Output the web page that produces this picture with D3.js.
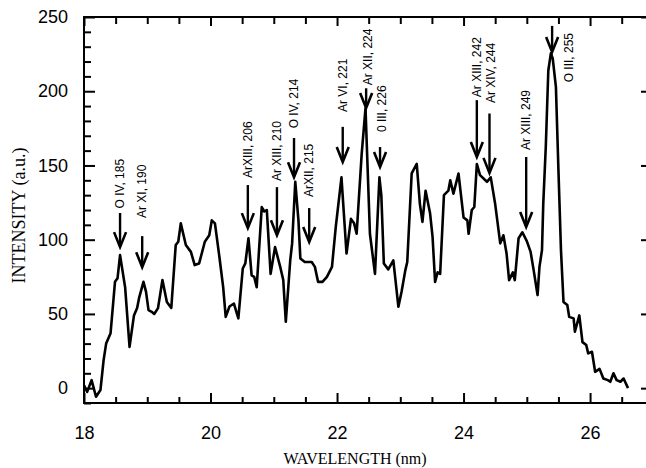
<!DOCTYPE html>
<html>
<head>
<meta charset="utf-8">
<script src="https://cdn.jsdelivr.net/npm/d3@7"></script>
<style>
  html, body { margin: 0; padding: 0; background: #fff; }
  svg { display: block; }
</style>
</head>
<body>
<svg id="chart" width="646" height="468"></svg>
<script>
// ---- data ----
const wavelength = [
  18.00, 18.05, 18.12, 18.19, 18.26, 18.31, 18.35, 18.42, 18.49, 18.53,
  18.57, 18.65, 18.72, 18.79, 18.84, 18.87, 18.94, 18.98, 19.02, 19.07,
  19.11, 19.17, 19.24, 19.31, 19.38, 19.45, 19.49, 19.53, 19.61, 19.69,
  19.75, 19.82, 19.91, 19.98, 20.02, 20.07, 20.14, 20.20, 20.24, 20.30,
  20.37, 20.44, 20.51, 20.55, 20.60, 20.65, 20.69, 20.73, 20.81, 20.85,
  20.89, 20.95, 21.02, 21.10, 21.15, 21.19, 21.26, 21.29, 21.34, 21.39,
  21.42, 21.49, 21.60, 21.65, 21.70, 21.77, 21.84, 21.92, 21.98, 22.07,
  22.15, 22.22, 22.27, 22.31, 22.35, 22.39, 22.45, 22.52, 22.60, 22.67,
  22.70, 22.74, 22.81, 22.89, 22.97, 23.02, 23.08, 23.11, 23.18, 23.26,
  23.31, 23.35, 23.40, 23.47, 23.51, 23.55, 23.59, 23.63, 23.69, 23.76,
  23.79, 23.84, 23.92, 24.00, 24.06, 24.08, 24.13, 24.17, 24.21, 24.26,
  24.37, 24.43, 24.50, 24.58, 24.63, 24.68, 24.72, 24.78, 24.81, 24.87,
  24.93, 25.00, 25.06, 25.11, 25.17, 25.20, 25.24, 25.26, 25.30, 25.34,
  25.38, 25.41, 25.46, 25.50, 25.54, 25.58, 25.64, 25.67, 25.74, 25.76,
  25.83, 25.88, 25.94, 25.97, 26.03, 26.08, 26.15, 26.21, 26.28, 26.32,
  26.37, 26.42, 26.48, 26.53, 26.60
];
const intensity = [
  2, -2.5, 5.4, -5.8, -1.3, 18.9, 30, 37, 71.6, 74,
  89.6, 68, 27.8, 49, 54, 60.6, 71.6, 65, 52.6, 51.4,
  50, 53.9, 72.8, 58, 54, 96.4, 98.6, 111, 96.4, 91.8,
  82.9, 84, 98.6, 103, 113, 111, 88.5, 68, 48, 55,
  57, 47, 80.6, 84, 101, 76, 75, 68, 122, 119,
  120, 77, 95, 82, 72.8, 44.7, 86, 97.5, 139, 113,
  87.4, 85, 85, 81.7, 71.6, 71.6, 75, 81.7, 108.7, 142,
  90.7, 114, 111, 104, 131, 158, 188.5, 104, 77, 142,
  130, 84, 80, 86, 54.8, 65, 79.5, 85, 144.6, 151,
  124, 112, 133, 118, 102, 71.6, 78, 77, 130, 133,
  140, 131, 144.6, 115, 113, 104, 120, 122, 151, 143.5,
  139, 142, 124, 97.5, 103, 90.7, 72.8, 78, 72.8, 101,
  105, 99, 91.8, 79, 62.7, 81.7, 93, 124, 162.6, 214,
  225.5, 222, 203, 147, 93, 58, 56, 48, 47, 38,
  49, 31, 29, 23.4, 24.5, 11, 13, 6.5, 5.4, 4.3,
  10, 5.4, 4.3, 6.5, 0
];

// annotations: label, wavelength of arrow, arrow tip / tail intensity, label start intensity
const annLabels = ["O IV, 185", "Ar XI, 190", "ArXIII, 206", "Ar XIII, 210", "O IV, 214",
  "ArXII,  215", "Ar VI, 221", "Ar XII, 224", "0 III, 226", "Ar XIII, 242",
  "Ar XIV, 244", "Ar XIII, 249", "O III, 255"];
const annX    = [18.57, 18.92, 20.59, 21.05, 21.32, 21.56, 22.09, 22.46, 22.68, 24.21, 24.41, 24.99, 25.40];
const annTip  = [95, 81.5, 107.8, 103, 142, 98.4, 152.3, 188.7, 149, 155.7, 145, 108.5, 226.4];
const annTail = [118, 102.4, 136.8, 135.4, 168.5, 121.3, 176, 202, 162.4, 194, 185, 155.7, 244];
const annTextX = [18.57, 18.92, 20.59, 21.05, 21.32, 21.56, 22.09, 22.49, 22.71, 24.21, 24.43, 24.99, 25.66];
const annTextY = [121, 114.6, 141.5, 139.5, 175, 128.7, 186, 204, 172.5, 196, 192, 160.4, 206];

const xMajorTicks = [18, 20, 22, 24, 26];
const yMajorTicks = [0, 50, 100, 150, 200, 250];
const xTitle = "WAVELENGTH (nm)";
const yTitle = "INTENSITY (a.u.)";

// ---- layout ----
const svg = d3.select("#chart");
const L = 84, R = 647, T = 17, B = 403;
const x = d3.scaleLinear().domain([18, 26.9]).range([L, R]);
const y = d3.scaleLinear().domain([-10, 250]).range([B, T]);

const xMinor = d3.range(18, 26.9, 0.5).filter(v => !xMajorTicks.includes(v));
const yMinor = d3.range(-10, 251, 10).filter(v => !yMajorTicks.includes(v));

const sans = "'Liberation Sans', Arial, Helvetica, sans-serif";
const serif = "'Liberation Serif', 'Times New Roman', serif";

function styleAxis(g) {
  g.select(".domain").remove();
  g.selectAll(".tick line").attr("stroke", "#000").attr("stroke-width", 2);
  g.selectAll("text").attr("font-family", sans).attr("font-size", 18).attr("fill", "#000");
}

// bottom
svg.append("g").attr("transform", `translate(0,${B})`)
  .call(d3.axisBottom(x).tickValues(xMajorTicks).tickSize(-10).tickPadding(23).tickFormat(d3.format("d")))
  .call(styleAxis);
svg.append("g").attr("transform", `translate(0,${B})`)
  .call(d3.axisBottom(x).tickValues(xMinor).tickSize(-6).tickFormat(""))
  .call(styleAxis);
// top
svg.append("g").attr("transform", `translate(0,${T})`)
  .call(d3.axisTop(x).tickValues(xMajorTicks).tickSize(-9).tickFormat(""))
  .call(styleAxis);
svg.append("g").attr("transform", `translate(0,${T})`)
  .call(d3.axisTop(x).tickValues(xMinor).tickSize(-7).tickFormat(""))
  .call(styleAxis);
// left
svg.append("g").attr("transform", `translate(${L},0)`)
  .call(d3.axisLeft(y).tickValues(yMajorTicks).tickSize(-11).tickPadding(16).tickFormat(d3.format("d")))
  .call(styleAxis);
svg.append("g").attr("transform", `translate(${L},0)`)
  .call(d3.axisLeft(y).tickValues(yMinor).tickSize(-7).tickFormat(""))
  .call(styleAxis);
// right
svg.append("g").attr("transform", `translate(${R},0)`)
  .call(d3.axisRight(y).tickValues(yMajorTicks).tickSize(-6).tickFormat(""))
  .call(styleAxis);

// frame
svg.append("rect").attr("x", L).attr("y", T).attr("width", R - L).attr("height", B - T)
  .attr("fill", "none").attr("stroke", "#000").attr("stroke-width", 2);

// titles
svg.append("text").attr("x", 355).attr("y", 464).attr("text-anchor", "middle")
  .attr("font-family", serif).attr("font-size", 16).attr("fill", "#000").text(xTitle);
svg.append("text").attr("transform", `translate(24.5,215.5) rotate(-90)`)
  .attr("text-anchor", "middle").attr("font-family", serif).attr("font-size", 18)
  .attr("fill", "#000").text(yTitle);

// spectrum
const pts = wavelength.map((w, i) => [w, intensity[i]]);
svg.append("path").datum(pts)
  .attr("fill", "none").attr("stroke", "#000").attr("stroke-width", 2.6)
  .attr("stroke-linejoin", "round")
  .attr("d", d3.line().x(d => x(d[0])).y(d => y(d[1])));

// annotations
const ann = svg.append("g");
annLabels.forEach((lab, i) => {
  const ax = x(annX[i]), tip = y(annTip[i]), tail = y(annTail[i]);
  ann.append("line").attr("x1", ax).attr("x2", ax).attr("y1", tail).attr("y2", tip - 2)
    .attr("stroke", "#000").attr("stroke-width", 2.4);
  ann.append("path").attr("d", `M${ax - 6},${tip - 15} L${ax},${tip} L${ax + 6},${tip - 15}`)
    .attr("fill", "none").attr("stroke", "#000").attr("stroke-width", 2.6)
    .attr("stroke-linejoin", "miter");
  ann.append("text")
    .attr("transform", `translate(${x(annTextX[i])},${y(annTextY[i])}) rotate(-90)`)
    .attr("dy", "0.35em").attr("font-family", sans).attr("font-size", 12)
    .attr("fill", "#000").text(lab);
});
</script>
</body>
</html>
